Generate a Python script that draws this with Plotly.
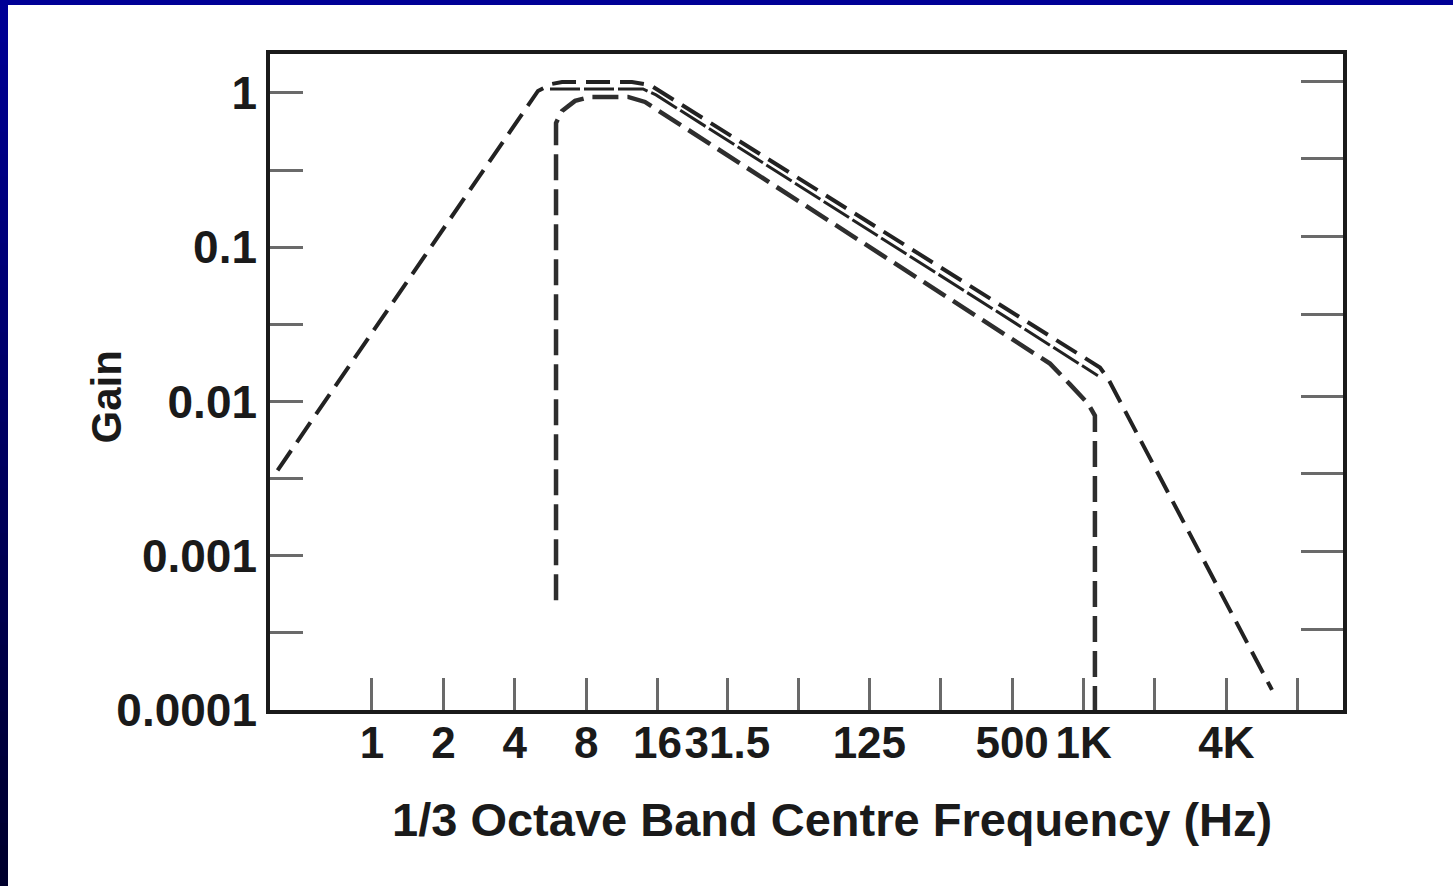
import plotly.graph_objects as go

# ---- data ----
# x tick positions (Hz) and labels
x_tickvals = [1, 2, 4, 8, 16, 31.5, 63, 125, 250, 500, 1000, 2000, 4000, 8000]
x_ticktext = ["1", "2", "4", "8", "16", "31.5", "", "125", "", "500", "1K", "", "4K", ""]

# left y ticks (half decades), labels only at decades
y_tickvals = [1, 0.316, 0.1, 0.0316, 0.01, 0.00316, 0.001, 0.000316, 0.0001]
y_ticktext = ["1", "", "0.1", "", "0.01", "", "0.001", "", "0.0001"]

# right y ticks as they appear in the scan
y2_tickvals = [1.18, 0.374, 0.117, 0.0366, 0.0108, 0.00342, 0.00107, 0.000334]

# outer (wide band) curve
outer_f = [0.40, 5.01, 5.74, 6.33, 12.48, 14.86, 1173, 1268, 6230]
outer_g = [0.00358, 1.03, 1.144, 1.178, 1.178, 1.127, 0.0166, 0.0141, 0.000135]

# middle curve
mid_f = [5.63, 13.89, 15.76, 1150]
mid_g = [1.061, 1.061, 0.971, 0.0147]

# inner (band-limited) curve
inner_f = [5.97, 5.97, 6.33, 7.18, 8.30, 12.0, 14.16, 722, 877, 1044, 1117, 1117]
inner_g = [0.000515, 0.639, 0.765, 0.888, 0.942, 0.942, 0.874, 0.0176, 0.0129, 0.0097, 0.0081, 0.0001]

X_RANGE = [-0.43, 4.094]
Y_RANGE = [-4, 0.2524]

fig = go.Figure()

line_col = "#222222"
fig.add_trace(go.Scatter(x=outer_f, y=outer_g, mode="lines",
                         line=dict(color=line_col, width=4, dash="24px,10px"),
                         showlegend=False, hoverinfo="skip"))
fig.add_trace(go.Scatter(x=mid_f, y=mid_g, mode="lines", yaxis="y2",
                         line=dict(color=line_col, width=3, dash="30px,4px"),
                         showlegend=False, hoverinfo="skip"))
fig.add_trace(go.Scatter(x=inner_f, y=inner_g, mode="lines",
                         line=dict(color="#2e2e2e", width=4.5, dash="26px,9px"),
                         showlegend=False, hoverinfo="skip"))

FONT = "Liberation Sans, Arial, sans-serif"
x_tick_font = dict(family=FONT, size=44, color="#1a1a1a", weight="bold")
y_tick_font = dict(family=FONT, size=46, color="#1a1a1a", weight="bold")

fig.update_layout(
    width=1453, height=886, autosize=False,
    margin=dict(l=270, r=110, t=54, b=176),
    paper_bgcolor="white", plot_bgcolor="white",
    xaxis=dict(type="log", range=X_RANGE, tickmode="array",
               tickvals=x_tickvals, ticktext=x_ticktext, tickangle=0,
               ticks="inside", ticklen=32, tickwidth=3, tickcolor="#6a6a6a",
               ticklabelstandoff=-9,
               showline=True, linewidth=3.5, linecolor="#1a1a1a", mirror=True,
               showgrid=False, zeroline=False, tickfont=x_tick_font),
    yaxis=dict(type="log", range=Y_RANGE, tickmode="array",
               tickvals=y_tickvals, ticktext=y_ticktext,
               ticks="inside", ticklen=33, tickwidth=3, tickcolor="#6a6a6a",
               showline=True, linewidth=3.5, linecolor="#1a1a1a", mirror=True,
               showgrid=False, zeroline=False, tickfont=y_tick_font),
    yaxis2=dict(type="log", range=Y_RANGE, overlaying="y", side="right",
                tickmode="array", tickvals=y2_tickvals,
                ticks="inside", ticklen=42, tickwidth=3, tickcolor="#6a6a6a",
                showticklabels=False, showline=False, showgrid=False,
                zeroline=False),
)

# axis titles as annotations
fig.add_annotation(text="Gain", textangle=-90, xref="paper", yref="paper",
                   x=-0.1528, y=0.4764, xanchor="center", yanchor="middle",
                   showarrow=False,
                   font=dict(family=FONT, size=42, color="#1a1a1a", weight="bold"))
fig.add_annotation(text="1/3 Octave Band Centre Frequency (Hz)", xref="paper", yref="paper",
                   x=0.5238, y=-0.1674, xanchor="center", yanchor="middle",
                   showarrow=False,
                   font=dict(family=FONT, size=47, color="#1a1a1a", weight="bold"))

# blue slide frame (top strip and left gradient strip)
PW, PH = 1073.0, 656.0
left_x0 = -272 / PW
left_x1 = (8 - 270) / PW
top_y = 1 + 56 / PH
fig.add_shape(type="rect", xref="paper", yref="paper",
              x0=left_x0, x1=(1460 - 270) / PW, y0=1 + 49 / PH, y1=top_y,
              fillcolor="#000096", line=dict(width=0), layer="above")
n = 40
bottom_y = -(176 + 4) / PH
for i in range(n):
    t = i / (n - 1)
    b = int(150 - (150 - 45) * t)
    y1 = top_y - (top_y - bottom_y) * i / n
    y0 = top_y - (top_y - bottom_y) * (i + 1) / n
    fig.add_shape(type="rect", xref="paper", yref="paper",
                  x0=left_x0, x1=left_x1, y0=y0 - 0.002, y1=y1,
                  fillcolor=f"rgb(0,0,{b})", line=dict(width=0), layer="above")

fig.write_html("out.html")
